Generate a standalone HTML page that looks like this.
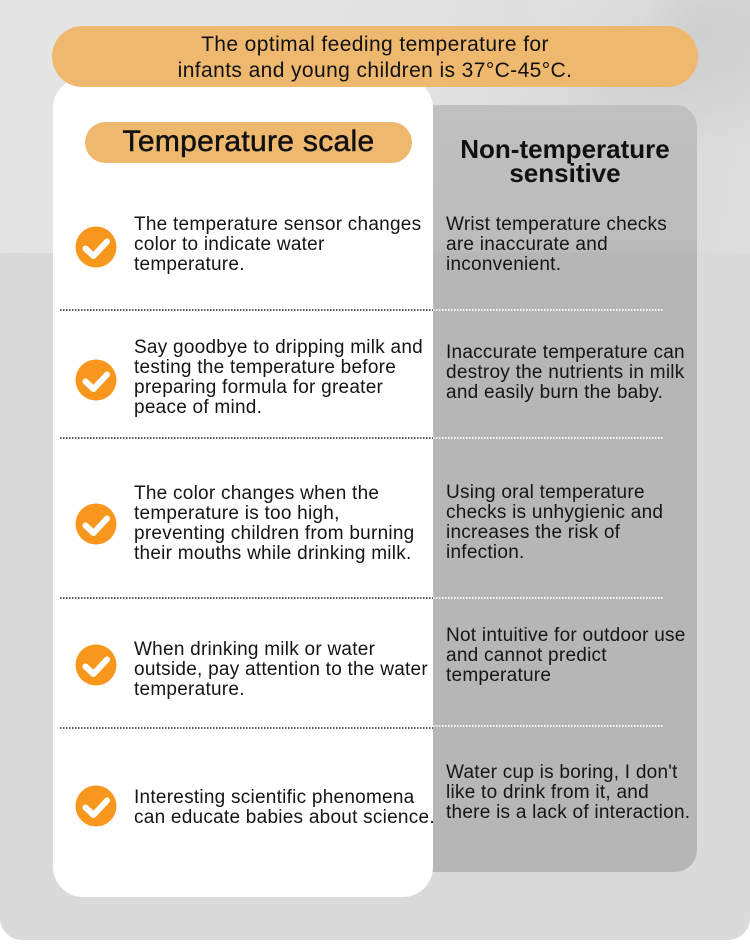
<!DOCTYPE html>
<html>
<head>
<meta charset="utf-8">
<style>
  html,body{margin:0;padding:0;}
  body{width:750px;height:951px;position:relative;overflow:hidden;background:#ffffff;font-family:"Liberation Sans",sans-serif;color:#111;}
  .abs{position:absolute;}
  .topbg{left:0;top:0;width:750px;height:253px;
    background:
      radial-gradient(ellipse 160px 120px at 700px 30px, rgba(190,190,190,0.55), rgba(190,190,190,0) 100%),
      radial-gradient(ellipse 120px 80px at 640px 10px, rgba(245,245,245,0.6), rgba(245,245,245,0) 100%),
      linear-gradient(100deg,#e5e5e5 0%,#e2e2e2 55%,#d8d8d8 80%,#dedede 100%);}
  .lower{left:0;top:253px;width:750px;height:687px;background:#dadada;border-radius:0 0 22px 22px;}
  .grey{left:400px;top:105px;width:297px;height:767px;border-radius:22px;
    background:linear-gradient(to bottom,#c0c0c0 0,#bbbbbb 146px,#b6b6b6 149px,#b6b6b6 100%);}
  .white{left:53px;top:78px;width:380px;height:819px;background:#fff;border-radius:30px;}
  .banner{left:52px;top:26px;width:646px;height:61px;background:#eeb86f;border-radius:31px;}
  .banner-t{left:52px;top:32px;width:646px;text-align:center;font-size:21px;line-height:25.5px;letter-spacing:0.4px;color:#111;}
  .pill{left:85px;top:122px;width:327px;height:41px;background:#eeb86f;border-radius:21px;}
  .pill-t{left:85px;top:127px;width:327px;text-align:center;font-size:30px;line-height:30px;letter-spacing:0.3px;-webkit-text-stroke:0.5px #111;}
  .head2{left:433px;top:137px;width:264px;text-align:center;font-size:26px;line-height:24px;font-weight:bold;color:#111;}
  .t{font-size:19px;line-height:20px;letter-spacing:0.25px;white-space:nowrap;color:#151515;}
  .l{left:134px;}
  .r{left:446px;}
  .dl{height:2px;background:repeating-linear-gradient(90deg,#5a5a5a 0 1.5px,transparent 1.5px 3px);left:60px;width:373px;}
  .dr{height:2px;background:repeating-linear-gradient(90deg,#f4f4f4 0 1.5px,transparent 1.5px 3px);left:433px;width:231px;}
  .ic{left:75px;width:42px;height:42px;}
</style>
</head>
<body>
  <div class="abs topbg"></div>
  <div class="abs lower"></div>
  <div class="abs grey"></div>
  <div class="abs white"></div>
  <div class="abs banner"></div>
  <div class="abs banner-t">The optimal feeding temperature for<br>infants and young children is 37°C-45°C.</div>

  <div class="abs pill"></div>
  <div class="abs pill-t">Temperature scale</div>
  <div class="abs head2">Non-temperature<br>sensitive</div>

  <!-- Row 1 -->
  <svg class="abs ic" style="top:226px" viewBox="-21 -21 42 42"><circle r="20.5" fill="#f7971e"/><path d="M-10.5 1.5 L-2.5 9 L11 -5.5" fill="none" stroke="#fff" stroke-width="6" stroke-linecap="round" stroke-linejoin="round"/></svg>
  <div class="abs t l" style="top:215px">The temperature sensor changes<br>color to indicate water<br>temperature.</div>
  <div class="abs t r" style="top:215px">Wrist temperature checks<br>are inaccurate and<br>inconvenient.</div>
  <div class="abs dl" style="top:309px"></div>
  <div class="abs dr" style="top:309px"></div>

  <!-- Row 2 -->
  <svg class="abs ic" style="top:359px" viewBox="-21 -21 42 42"><circle r="20.5" fill="#f7971e"/><path d="M-10.5 1.5 L-2.5 9 L11 -5.5" fill="none" stroke="#fff" stroke-width="6" stroke-linecap="round" stroke-linejoin="round"/></svg>
  <div class="abs t l" style="top:338px">Say goodbye to dripping milk and<br>testing the temperature before<br>preparing formula for greater<br>peace of mind.</div>
  <div class="abs t r" style="top:343px">Inaccurate temperature can<br>destroy the nutrients in milk<br>and easily burn the baby.</div>
  <div class="abs dl" style="top:437px"></div>
  <div class="abs dr" style="top:437px"></div>

  <!-- Row 3 -->
  <svg class="abs ic" style="top:503px" viewBox="-21 -21 42 42"><circle r="20.5" fill="#f7971e"/><path d="M-10.5 1.5 L-2.5 9 L11 -5.5" fill="none" stroke="#fff" stroke-width="6" stroke-linecap="round" stroke-linejoin="round"/></svg>
  <div class="abs t l" style="top:484px">The color changes when the<br>temperature is too high,<br>preventing children from burning<br>their mouths while drinking milk.</div>
  <div class="abs t r" style="top:483px">Using oral temperature<br>checks is unhygienic and<br>increases the risk of<br>infection.</div>
  <div class="abs dl" style="top:597px"></div>
  <div class="abs dr" style="top:597px"></div>

  <!-- Row 4 -->
  <svg class="abs ic" style="top:644px" viewBox="-21 -21 42 42"><circle r="20.5" fill="#f7971e"/><path d="M-10.5 1.5 L-2.5 9 L11 -5.5" fill="none" stroke="#fff" stroke-width="6" stroke-linecap="round" stroke-linejoin="round"/></svg>
  <div class="abs t l" style="top:640px">When drinking milk or water<br>outside, pay attention to the water<br>temperature.</div>
  <div class="abs t r" style="top:626px">Not intuitive for outdoor use<br>and cannot predict<br>temperature</div>
  <div class="abs dl" style="top:727px"></div>
  <div class="abs dr" style="top:725px"></div>

  <!-- Row 5 -->
  <svg class="abs ic" style="top:785px" viewBox="-21 -21 42 42"><circle r="20.5" fill="#f7971e"/><path d="M-10.5 1.5 L-2.5 9 L11 -5.5" fill="none" stroke="#fff" stroke-width="6" stroke-linecap="round" stroke-linejoin="round"/></svg>
  <div class="abs t l" style="top:788px">Interesting scientific phenomena<br>can educate babies about science.</div>
  <div class="abs t r" style="top:763px">Water cup is boring, I don't<br>like to drink from it, and<br>there is a lack of interaction.</div>
</body>
</html>
